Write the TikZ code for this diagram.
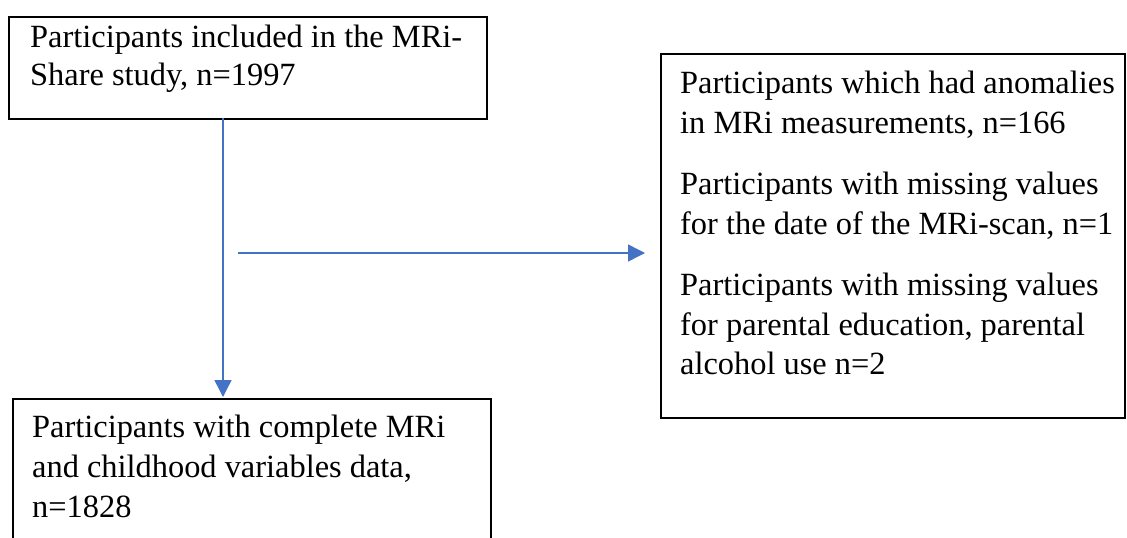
\documentclass[tikz,border=0pt]{standalone}
\usepackage{fontspec}
\setmainfont{Liberation Serif}
\usetikzlibrary{arrows.meta}
\definecolor{arrowblue}{HTML}{4472C4}
\tikzset{
  box/.style={draw=black, line width=2pt, inner sep=0pt, anchor=north west},
  txt/.style={anchor=base west, inner sep=0pt, font=\fontsize{32.4}{40}\selectfont},
  arr/.style={draw=arrowblue, line width=1.4pt, -{Triangle[length=17pt,width=17pt]}}
}
\begin{document}
\begin{tikzpicture}[x=1pt,y=-1pt]
\clip (0,0) rectangle (1127,538);
\fill[white] (0,0) rectangle (1127,538);
% boxes
\node[box, minimum width=478pt, minimum height=102pt] (top) at (8,16) {};
\node[box, minimum width=464pt, minimum height=364pt] (right) at (660,53) {};
\node[box, minimum width=478pt, minimum height=200pt] (bottom) at (12,398) {};
% texts
\node[txt] (t1) at (30,47) {Participants included in the MRi-};
\node[txt] (t2) at (30,85) {Share study, n=1997};
\node[txt] (r1) at (680,93) {Participants which had anomalies};
\node[txt] (r2) at (680,133) {in MRi measurements, n=166};
\node[txt] (r3) at (680,194) {Participants with missing values};
\node[txt] (r4) at (680,234) {for the date of the MRi-scan, n=1};
\node[txt] (r5) at (680,295) {Participants with missing values};
\node[txt] (r6) at (680,335) {for parental education, parental};
\node[txt] (r7) at (680,374) {alcohol use n=2};
\node[txt] (b1) at (32,437) {Participants with complete MRi};
\node[txt] (b2) at (32,477) {and childhood variables data,};
\node[txt] (b3) at (32,517) {n=1828};
% connectors
\coordinate (vs) at (223,118);
\coordinate (ve) at (223,397);
\coordinate (hs) at (238,253);
\coordinate (he) at (645,253);
\draw[arr] (vs) -- (ve);
\draw[arr] (hs) -- (he);
\end{tikzpicture}
\end{document}
